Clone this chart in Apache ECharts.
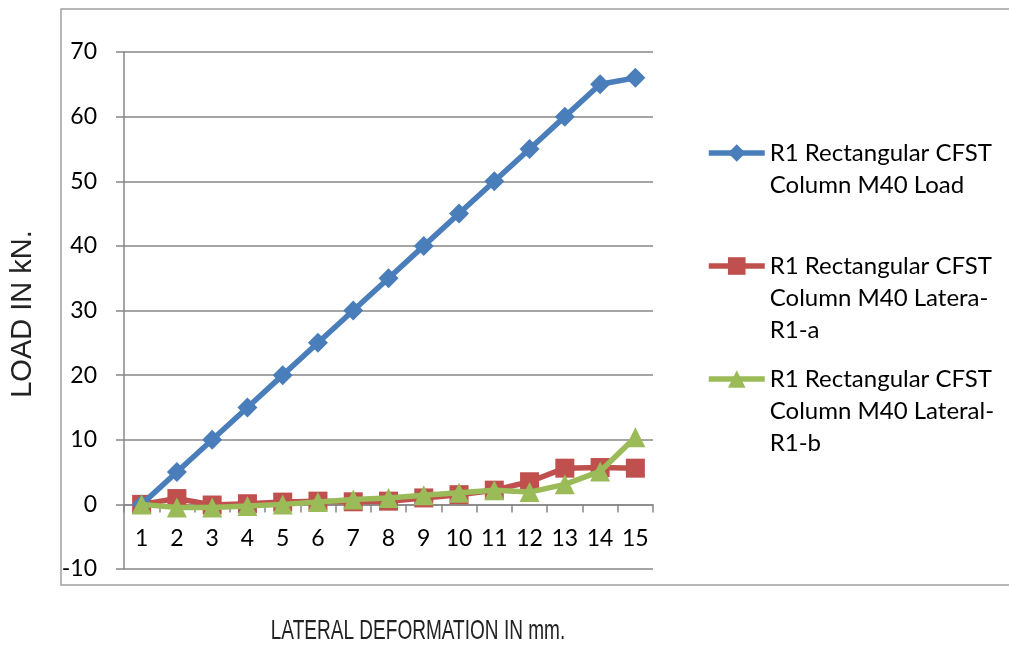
<!DOCTYPE html>
<html>
<head>
<meta charset="utf-8">
<script src="https://cdn.jsdelivr.net/npm/echarts@6/dist/echarts.min.js"></script>
<style>
  html, body { margin: 0; padding: 0; background: #ffffff; }
  #chart { width: 1009px; height: 648px; }
</style>
</head>
<body>
<div id="chart"></div>
<script>
// Lateral deformation steps (mm)
const categories = ['1', '2', '3', '4', '5', '6', '7', '8', '9', '10', '11', '12', '13', '14', '15'];

// Load readings (kN)
const loadValues = [0, 5, 10, 15, 20, 25, 30, 35, 40, 45, 50, 55, 60, 65, 66];
const lateralA = [0, 0.9, -0.1, 0.1, 0.35, 0.5, 0.4, 0.5, 1.0, 1.5, 2.2, 3.5, 5.6, 5.7, 5.6];
const lateralB = [0, -0.5, -0.5, -0.25, 0, 0.35, 0.75, 1.0, 1.4, 1.8, 2.2, 1.9, 3.1, 5.1, 10.4];

// Value axis range
const yMin = -10, yMax = 70, yStep = 10;

const seriesNames = [
  'R1 Rectangular CFST Column M40 Load',
  'R1 Rectangular CFST Column M40 Latera-R1-a',
  'R1 Rectangular CFST Column M40 Lateral-R1-b'
];
const legendLines = [
  ['R1 Rectangular CFST', 'Column M40 Load'],
  ['R1 Rectangular CFST', 'Column M40 Latera-', 'R1-a'],
  ['R1 Rectangular CFST', 'Column M40 Lateral-', 'R1-b']
];

const BLUE = '#4a7ebb', RED = '#c0504d', GREEN = '#9bbb59';
const COLORS = [BLUE, RED, GREEN];
const GRID_GRAY = '#878787';
const TICK_FONT = 'Lato, "Noto Sans", sans-serif';
const LINE_W = 5.5;

// plot area
const GRID = { left: 124, right: 356, top: 52, bottom: 79 };
const plotHeight = 648 - GRID.top - GRID.bottom;
// lift the category axis from the plot bottom up to the zero line
const zeroOffset = -((0 - yMin) / (yMax - yMin)) * plotHeight;

const LINE_H = 32;
// the legend centres its icon on the text block, so blank lines are
// prepended to keep the icon level with the first text line
function legendFor(idx, iconCenterY) {
  const lines = legendLines[idx];
  const blank = new Array(lines.length - 1).fill('');
  const text = blank.concat(lines).join('\n');
  const blockH = (2 * lines.length - 1) * LINE_H;
  return {
    show: true,
    left: 706,
    top: iconCenterY - blockH / 2,
    padding: 0,
    orient: 'vertical',
    itemWidth: 56,
    itemHeight: 22,
    selectedMode: false,
    data: [{ name: seriesNames[idx] }],
    formatter: () => text,
    lineStyle: { width: LINE_W, color: COLORS[idx] },
    textStyle: {
      fontFamily: TICK_FONT,
      fontSize: 24,
      color: '#000',
      lineHeight: LINE_H
    }
  };
}

const chart = echarts.init(document.getElementById('chart'), null, { renderer: 'canvas' });

chart.setOption({
  backgroundColor: '#ffffff',
  animation: false,
  grid: Object.assign({ containLabel: false }, GRID),
  legend: [
    legendFor(0, 153),
    legendFor(1, 266),
    legendFor(2, 379)
  ],
  xAxis: {
    type: 'category',
    data: categories,
    boundaryGap: true,
    offset: zeroOffset,
    axisLine: { onZero: false, lineStyle: { color: GRID_GRAY, width: 1.5 } },
    axisTick: { show: true, length: 8, alignWithLabel: false, lineStyle: { color: GRID_GRAY, width: 1.5 } },
    axisLabel: { margin: 23, color: '#000', fontFamily: TICK_FONT, fontSize: 23, interval: 0 },
    splitLine: { show: false }
  },
  yAxis: {
    type: 'value',
    min: yMin,
    max: yMax,
    interval: yStep,
    axisLine: { show: true, lineStyle: { color: GRID_GRAY, width: 1.5 } },
    axisTick: { show: true, length: 8, lineStyle: { color: GRID_GRAY, width: 1.5 } },
    axisLabel: { margin: 27, color: '#000', fontFamily: TICK_FONT, fontSize: 23 },
    splitLine: { show: true, lineStyle: { color: GRID_GRAY, width: 1.5 } }
  },
  series: [
    {
      name: seriesNames[0], type: 'line', data: loadValues,
      symbol: 'diamond', symbolSize: 20, showAllSymbol: true,
      lineStyle: { color: BLUE, width: LINE_W }, itemStyle: { color: BLUE },
      z: 4
    },
    {
      name: seriesNames[1], type: 'line', data: lateralA,
      symbol: 'rect', symbolSize: 19, showAllSymbol: true,
      lineStyle: { color: RED, width: LINE_W }, itemStyle: { color: RED },
      z: 3
    },
    {
      name: seriesNames[2], type: 'line', data: lateralB,
      symbol: 'triangle', symbolSize: 20, showAllSymbol: true,
      lineStyle: { color: GREEN, width: LINE_W }, itemStyle: { color: GREEN },
      z: 5
    }
  ],
  graphic: [
    {
      type: 'rect', silent: true, z: -1,
      shape: { x: 61, y: 9, width: 980, height: 576 },
      style: { fill: 'none', stroke: '#a0a0a0', lineWidth: 1.5 }
    },
    {
      type: 'text', silent: true,
      x: 418, y: 631, scaleX: 0.68,
      style: {
        text: 'LATERAL DEFORMATION IN mm.',
        font: '28px "Liberation Sans", Arial, sans-serif',
        fill: '#222', align: 'center', verticalAlign: 'middle'
      }
    },
    {
      type: 'text', silent: true,
      x: 23, y: 314, rotation: Math.PI / 2,
      style: {
        text: 'LOAD IN kN.',
        font: '29px "Liberation Sans", Arial, sans-serif',
        fill: '#222', align: 'center', verticalAlign: 'middle'
      }
    }
  ]
});
</script>
</body>
</html>
